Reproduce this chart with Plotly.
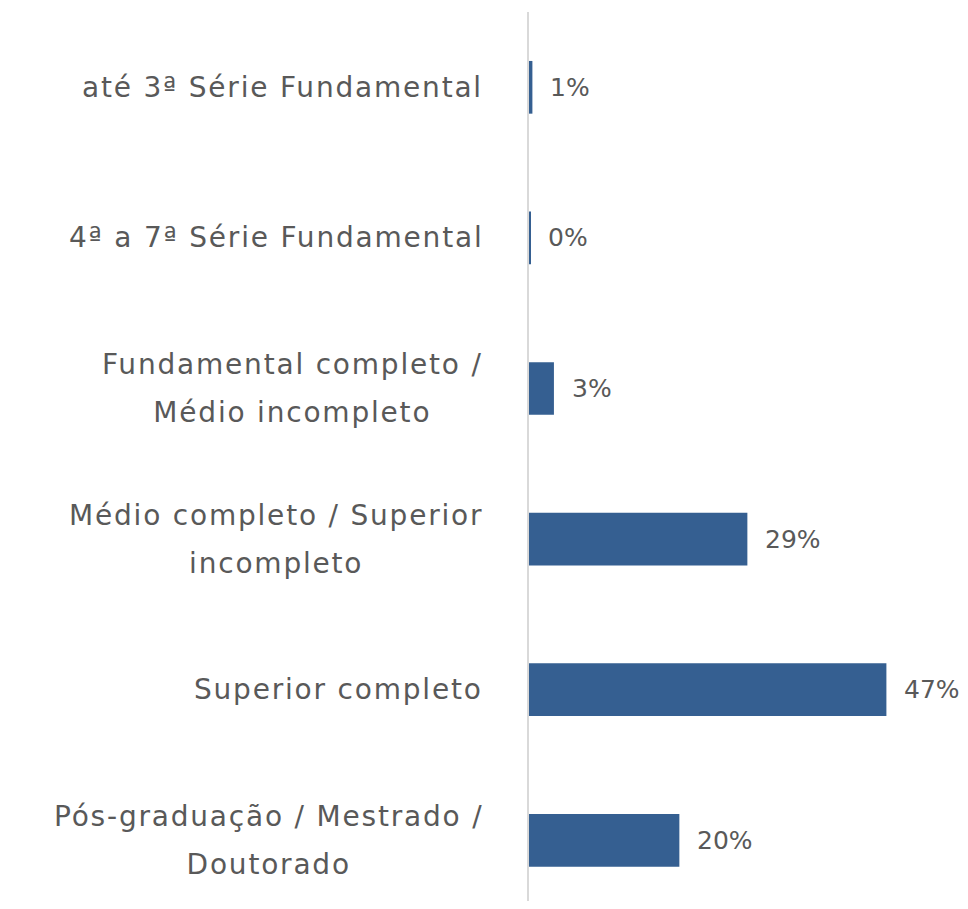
import plotly.graph_objects as go

# Education level survey - share of respondents
categories = [
    "até 3ª Série Fundamental",
    "4ª a 7ª Série Fundamental",
    "Fundamental completo /<br>Médio incompleto",
    "Médio completo / Superior<br>incompleto",
    "Superior completo",
    "Pós-graduação / Mestrado /<br>Doutorado",
]
values = [0.45, 0.15, 3.3, 28.9, 47.3, 19.9]
value_labels = ["1%", "0%", "3%", "29%", "47%", "20%"]

BAR = "#355F91"
TXT = "#595959"
FONT = "DejaVu Sans"
FS = 25
CAT_FS = 28
LINE_GAP = 48  # distance between wrapped label lines
BASE = LINE_GAP / 2 / 1.3  # plotly spaces lines by 1.3em of the base size

fig = go.Figure(go.Bar(
    x=values, y=categories, orientation="h",
    marker=dict(color=BAR, line=dict(width=0)),
    width=0.35, hoverinfo="skip",
))

annotations = []
for cat, val, lab in zip(categories, values, value_labels):
    annotations.append(dict(
        x=val, y=cat, xref="x", yref="y", text=lab, showarrow=False,
        xanchor="left", xshift=16, font=dict(family=FONT, size=FS, color=TXT),
    ))
    # wrapped labels: an empty line between two big lines gives the wider gap
    lines = [f"<span style='font-size:{CAT_FS}px;letter-spacing:1.8px'>{s}</span>"
             for s in cat.split("<br>")]
    annotations.append(dict(
        x=0, y=cat, xref="paper", yref="y", text="<br><br>".join(lines),
        showarrow=False, align="center", xanchor="right", yanchor="middle",
        xshift=-44, font=dict(family=FONT, size=BASE if len(lines) > 1 else CAT_FS, color=TXT),
    ))

fig.update_layout(
    width=960, height=893,
    margin=dict(l=521, r=0, t=4, b=0),
    paper_bgcolor="white", plot_bgcolor="white",
    showlegend=False,
    annotations=annotations,
    xaxis=dict(range=[0, 58.1], visible=False, fixedrange=True),
    yaxis=dict(
        range=[5.403, -0.5], showticklabels=False, ticks="",
        showline=True, linecolor="#D9D9D9", linewidth=2,
        showgrid=False, zeroline=False, fixedrange=True,
    ),
)

fig.write_html("out.html")
